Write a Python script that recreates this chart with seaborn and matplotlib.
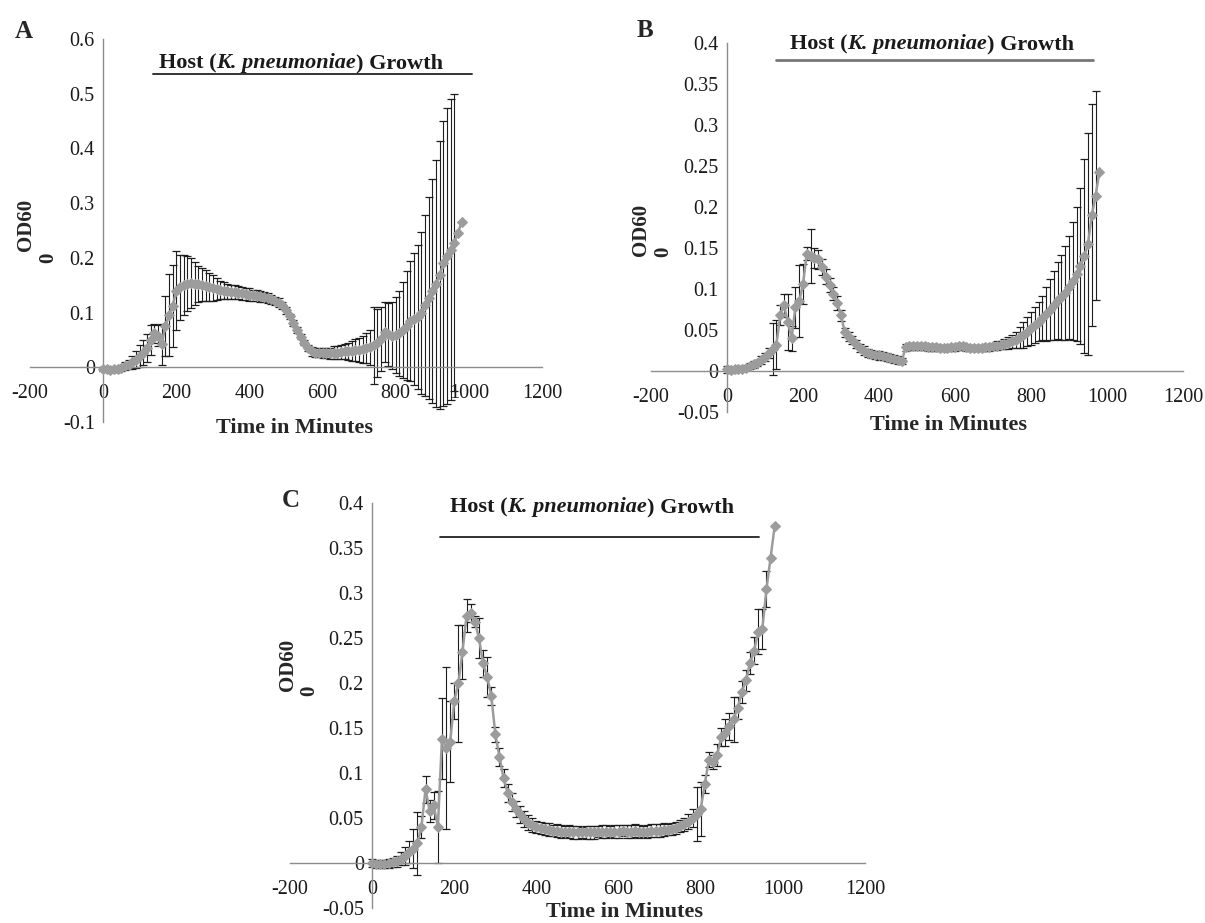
import matplotlib
matplotlib.use("Agg")
import pandas as pd
import matplotlib.pyplot as plt
from matplotlib.lines import Line2D
from matplotlib.ticker import FuncFormatter
import seaborn as sns

# sampling times (minutes), shared by the three panels
minutes = [
    0, 10, 20, 30, 40, 50, 60, 70, 80, 90,
    100, 110, 120, 130, 140, 150, 160, 170, 180, 190,
    200, 210, 220, 230, 240, 250, 260, 270, 280, 290,
    300, 310, 320, 330, 340, 350, 360, 370, 380, 390,
    400, 410, 420, 430, 440, 450, 460, 470, 480, 490,
    500, 510, 520, 530, 540, 550, 560, 570, 580, 590,
    600, 610, 620, 630, 640, 650, 660, 670, 680, 690,
    700, 710, 720, 730, 740, 750, 760, 770, 780, 790,
    800, 810, 820, 830, 840, 850, 860, 870, 880, 890,
    900, 910, 920, 930, 940, 950, 960, 970, 980,
]

# panel A : mean OD600 and error
od_a = [
    -0.003, -0.004, -0.005, -0.004, -0.003, -0.001, 0.002, 0.005, 0.009, 0.014,
    0.020, 0.027, 0.035, 0.050, 0.062, 0.058, 0.042, 0.075, 0.095, 0.112,
    0.140, 0.146, 0.150, 0.153, 0.154, 0.153, 0.152, 0.151, 0.149, 0.147,
    0.145, 0.143, 0.141, 0.140, 0.139, 0.138, 0.137, 0.136, 0.135, 0.134,
    0.133, 0.132, 0.131, 0.130, 0.128, 0.126, 0.124, 0.121, 0.118, 0.113,
    0.104, 0.093, 0.081, 0.068, 0.056, 0.045, 0.035, 0.029, 0.027, 0.027,
    0.026, 0.026, 0.026, 0.027, 0.027, 0.028, 0.029, 0.029, 0.030, 0.031,
    0.032, 0.033, 0.035, 0.037, 0.040, 0.045, 0.052, 0.064, 0.060, 0.058,
    0.059, 0.062, 0.068, 0.076, 0.085, 0.088, 0.092, 0.100, 0.113, 0.127,
    0.140, 0.153, 0.168, 0.190, 0.203, 0.215, 0.228, 0.245, 0.265,
]
sd_a = [
    0.003, 0.003, 0.004, 0.004, 0.005, 0.006, 0.007, 0.008, 0.012, 0.016,
    0.020, 0.022, 0.025, 0.027, 0.018, 0.020, 0.038, 0.055, 0.075, 0.075,
    0.072, 0.060, 0.055, 0.050, 0.045, 0.040, 0.033, 0.030, 0.028, 0.026,
    0.023, 0.020, 0.017, 0.015, 0.014, 0.013, 0.013, 0.012, 0.012, 0.011,
    0.011, 0.010, 0.010, 0.010, 0.009, 0.009, 0.009, 0.008, 0.008, 0.007,
    0.006, 0.005, 0.005, 0.005, 0.005, 0.005, 0.006, 0.008, 0.008, 0.009,
    0.009, 0.009, 0.010, 0.011, 0.012, 0.013, 0.014, 0.016, 0.018, 0.020,
    0.022, 0.025, 0.028, 0.032, 0.070, 0.062, 0.058, 0.055, 0.058, 0.062,
    0.070, 0.078, 0.088, 0.100, 0.110, 0.120, 0.132, 0.148, 0.165, 0.185,
    0.205, 0.225, 0.245, 0.260, 0.270, 0.275, 0.272, 0.0, 0.0,
]

# panel B
od_b = [
    0.002, 0.001, 0.002, 0.003, 0.003, 0.004, 0.006, 0.008, 0.010, 0.013,
    0.017, 0.022, 0.027, 0.032, 0.068, 0.080, 0.060, 0.040, 0.078, 0.085,
    0.106, 0.143, 0.140, 0.138, 0.136, 0.127, 0.115, 0.105, 0.094, 0.083,
    0.068, 0.047, 0.042, 0.038, 0.033, 0.028, 0.025, 0.022, 0.021, 0.020,
    0.019, 0.018, 0.017, 0.016, 0.015, 0.013, 0.012, 0.029, 0.030, 0.030,
    0.030, 0.030, 0.030, 0.029, 0.029, 0.029, 0.028, 0.028, 0.028, 0.029,
    0.029, 0.030, 0.030, 0.029, 0.028, 0.028, 0.028, 0.028, 0.029, 0.029,
    0.030, 0.031, 0.032, 0.033, 0.034, 0.036, 0.038, 0.041, 0.044, 0.048,
    0.052, 0.056, 0.060, 0.065, 0.070, 0.075, 0.080, 0.086, 0.090, 0.095,
    0.102, 0.110, 0.118, 0.128, 0.140, 0.155, 0.190, 0.214, 0.243,
]
sd_b = [
    0.004, 0.004, 0.003, 0.003, 0.003, 0.003, 0.004, 0.004, 0.004, 0.005,
    0.005, 0.006, 0.032, 0.030, 0.012, 0.014, 0.034, 0.015, 0.025, 0.044,
    0.024, 0.008, 0.033, 0.012, 0.011, 0.010, 0.009, 0.009, 0.008, 0.008,
    0.007, 0.006, 0.006, 0.005, 0.005, 0.005, 0.005, 0.005, 0.005, 0.005,
    0.005, 0.005, 0.005, 0.005, 0.005, 0.005, 0.004, 0.004, 0.004, 0.004,
    0.004, 0.004, 0.004, 0.004, 0.004, 0.004, 0.004, 0.004, 0.004, 0.004,
    0.004, 0.004, 0.004, 0.004, 0.004, 0.004, 0.004, 0.004, 0.004, 0.004,
    0.004, 0.005, 0.005, 0.006, 0.007, 0.008, 0.010, 0.013, 0.016, 0.018,
    0.020, 0.022, 0.024, 0.027, 0.033, 0.037, 0.042, 0.047, 0.052, 0.057,
    0.063, 0.072, 0.082, 0.095, 0.118, 0.135, 0.135, 0.128, 0.0,
]

# panel C
od_c = [
    0.000, -0.001, -0.001, -0.001, 0.000, 0.001, 0.002, 0.005, 0.008, 0.012,
    0.016, 0.022, 0.040, 0.082, 0.058, 0.064, 0.040, 0.138, 0.128, 0.135,
    0.180, 0.200, 0.235, 0.275, 0.278, 0.268, 0.250, 0.222, 0.207, 0.186,
    0.143, 0.118, 0.094, 0.078, 0.068, 0.060, 0.054, 0.049, 0.045, 0.042,
    0.040, 0.039, 0.038, 0.037, 0.036, 0.036, 0.035, 0.035, 0.035, 0.034,
    0.034, 0.034, 0.034, 0.034, 0.034, 0.035, 0.035, 0.035, 0.035, 0.035,
    0.035, 0.036, 0.035, 0.035, 0.036, 0.035, 0.035, 0.035, 0.036, 0.036,
    0.036, 0.037, 0.037, 0.038, 0.039, 0.041, 0.043, 0.046, 0.050, 0.055,
    0.060, 0.088, 0.115, 0.112, 0.120, 0.140, 0.145, 0.152, 0.160, 0.172,
    0.190, 0.203, 0.222, 0.236, 0.257, 0.260, 0.304, 0.339, 0.374,
]
sd_c = [
    0.004, 0.004, 0.004, 0.004, 0.005, 0.005, 0.006, 0.007, 0.010, 0.012,
    0.022, 0.035, 0.012, 0.015, 0.012, 0.015, 0.040, 0.045, 0.090, 0.045,
    0.020, 0.065, 0.030, 0.018, 0.010, 0.006, 0.022, 0.015, 0.022, 0.010,
    0.008, 0.010, 0.010, 0.010, 0.010, 0.009, 0.009, 0.009, 0.008, 0.008,
    0.007, 0.007, 0.007, 0.007, 0.006, 0.007, 0.007, 0.006, 0.007, 0.007,
    0.007, 0.006, 0.007, 0.007, 0.007, 0.006, 0.007, 0.007, 0.006, 0.007,
    0.007, 0.006, 0.007, 0.007, 0.007, 0.007, 0.006, 0.007, 0.007, 0.007,
    0.007, 0.007, 0.006, 0.007, 0.007, 0.007, 0.007, 0.008, 0.010, 0.030,
    0.030, 0.010, 0.008, 0.008, 0.012, 0.010, 0.015, 0.015, 0.025, 0.012,
    0.012, 0.012, 0.012, 0.015, 0.025, 0.022, 0.020, 0.0, 0.0,
]

x_ticks = [-200, 0, 200, 400, 600, 800, 1000, 1200]
y_ticks_a = [-0.1, 0, 0.1, 0.2, 0.3, 0.4, 0.5, 0.6]
y_ticks_bc = [-0.05, 0, 0.05, 0.1, 0.15, 0.2, 0.25, 0.3, 0.35, 0.4]

W, H = 1205, 923
AXIS_GREY = "#8c8c8c"

sns.set_style("white")
plt.rcParams["font.family"] = ["Liberation Serif", "DejaVu Serif"]

fig = plt.figure(figsize=(W / 100, H / 100), dpi=100)


def fx(px):
    return px / W


def fy(py):
    return 1 - py / H


def px_axes(left, top, right, bottom):
    return fig.add_axes([fx(left), fy(bottom), (right - left) / W, (bottom - top) / H])


def draw_panel(ax, od, sd, ylim, yticks):
    df = pd.DataFrame({"minutes": minutes, "od": od, "sd": sd})
    bars = df[df["sd"] > 0]
    ax.errorbar(bars["minutes"], bars["od"], yerr=bars["sd"], fmt="none",
                ecolor="#1e1e1e", elinewidth=0.8, capsize=2.8, capthick=0.9, zorder=2)
    sns.lineplot(data=df, x="minutes", y="od", ax=ax, color="#9c9c9c", lw=1.8,
                 marker="D", markersize=4.6, markeredgecolor="#9c9c9c", zorder=3)

    ax.set_xlim(-200, 1200)
    ax.set_ylim(*ylim)
    ax.spines["left"].set_position(("data", 0))
    ax.spines["bottom"].set_position(("data", 0))
    for s in ("top", "right"):
        ax.spines[s].set_visible(False)
    for s in ("left", "bottom"):
        ax.spines[s].set_color(AXIS_GREY)
        ax.spines[s].set_linewidth(1.0)
    ax.set_xticks(x_ticks)
    ax.set_yticks(yticks)
    ax.yaxis.set_major_formatter(FuncFormatter(lambda v, p: f"{v:g}"))
    ax.xaxis.set_major_formatter(FuncFormatter(lambda v, p: f"{v:g}"))
    ax.tick_params(axis="x", direction="out", length=3, width=1, color=AXIS_GREY,
                   pad=9, labelsize=14.5, labelcolor="#1a1a1a")
    ax.tick_params(axis="y", direction="out", length=3, width=1, color=AXIS_GREY,
                   pad=3, labelsize=14.5, labelcolor="#1a1a1a")
    ax.set_xlabel("")
    ax.set_ylabel("")
    ax.patch.set_alpha(0)


def draw_title(ax, left, base, x0, x1, ly, color, lw):
    t1 = fig.text(fx(left), fy(base), "Host (", fontsize=16, fontweight="bold",
                  va="baseline", color="#1a1a1a")
    t2 = ax.annotate("K. pneumoniae", xy=(1, fy(base)), xycoords=(t1, "figure fraction"),
                     fontsize=16, fontweight="bold", fontstyle="italic",
                     va="baseline", ha="left", color="#1a1a1a")
    ax.annotate(") Growth", xy=(1, fy(base)), xycoords=(t2, "figure fraction"),
                fontsize=16, fontweight="bold", va="baseline", ha="left", color="#1a1a1a")
    fig.add_artist(Line2D([fx(x0), fx(x1)], [fy(ly), fy(ly)], color=color, lw=lw))


def draw_labels(letter, lx, lby, od_pos, zero_pos, xlab_pos):
    fig.text(fx(lx), fy(lby), letter, fontsize=18, fontweight="bold", va="baseline")
    fig.text(fx(od_pos[0]), fy(od_pos[1]), "OD60", rotation=90, fontsize=15,
             fontweight="bold", ha="center", va="center")
    fig.text(fx(zero_pos[0]), fy(zero_pos[1]), "0", rotation=90, fontsize=15,
             fontweight="bold", ha="center", va="center")
    fig.text(fx(xlab_pos[0]), fy(xlab_pos[1]), "Time in Minutes", fontsize=16,
             fontweight="bold", ha="center", va="center")


# panel A
ax_a = px_axes(30, 39, 542, 422)
draw_panel(ax_a, od_a, sd_a, (-0.1, 0.6), y_ticks_a)
draw_title(ax_a, 159, 68, 153, 472, 74, "#333333", 1.4)
draw_labels("A", 15, 38, (26, 225), (48, 258), (294, 428))

# panel B
ax_b = px_axes(651, 43, 1183, 412)
draw_panel(ax_b, od_b, sd_b, (-0.05, 0.4), y_ticks_bc)
draw_title(ax_b, 790, 49, 776, 1093, 60, "#777777", 2.0)
draw_labels("B", 637, 37, (641, 230), (663, 252), (948, 425))

# panel C
ax_c = px_axes(290, 503, 865, 908)
draw_panel(ax_c, od_c, sd_c, (-0.05, 0.4), y_ticks_bc)
draw_title(ax_c, 450, 512, 440, 759, 537, "#222222", 1.3)
draw_labels("C", 282, 507, (288, 665), (309, 691), (624, 912))

fig.savefig("out.png", dpi=100)
